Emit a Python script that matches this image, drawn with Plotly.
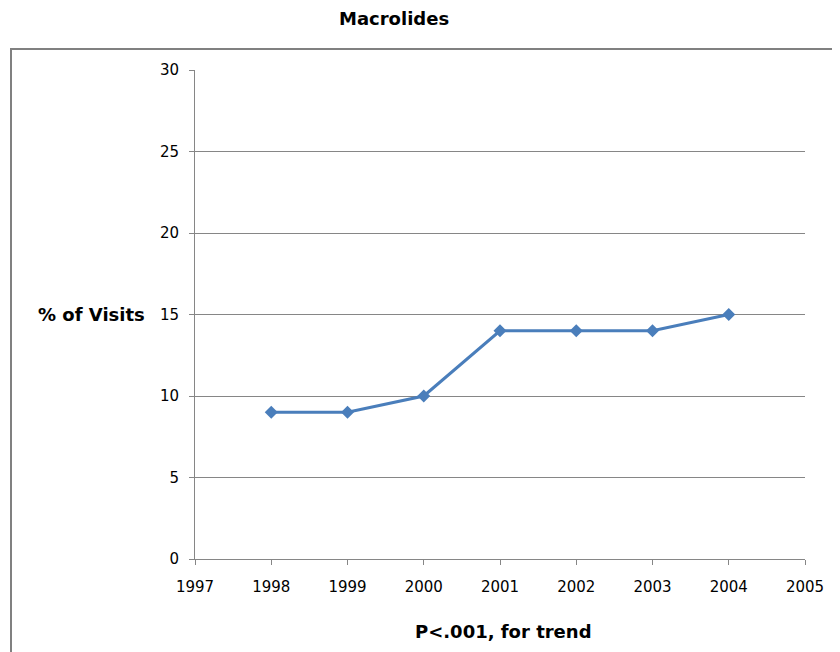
import plotly.graph_objects as go

years = [1998, 1999, 2000, 2001, 2002, 2003, 2004]
pct_visits = [9, 9, 10, 14, 14, 14, 15]
x_ticks = [1997, 1998, 1999, 2000, 2001, 2002, 2003, 2004, 2005]
y_ticks = [0, 5, 10, 15, 20, 25, 30]

OFF = 8  # page body margin
W, H = 840 - OFF, 652 - OFF
L, T = 195 - OFF, 70 - OFF
R = W - (805 - OFF)
B = H - (559 - OFF)
pw, ph = W - L - R, H - T - B

def px_x(px):
    return (px - OFF - L) / pw

def px_y(py):
    return (H - B - (py - OFF)) / ph

fig = go.Figure()
fig.add_trace(go.Scatter(
    x=years, y=pct_visits, mode="lines+markers",
    line=dict(color="#4A7EBB", width=3),
    marker=dict(symbol="diamond", size=10, color="#4A7EBB"),
    showlegend=False, cliponaxis=False,
))

font = "DejaVu Sans, sans-serif"
ann = dict(xref="paper", yref="paper", showarrow=False,
           xanchor="center", yanchor="middle")
fig.update_layout(
    width=W, height=H,
    margin=dict(l=L, r=R, t=T, b=B),
    paper_bgcolor="white", plot_bgcolor="white",
    font=dict(family=font, color="black"),
    xaxis=dict(range=[1997, 2005], tickvals=x_ticks, showgrid=False,
               showline=True, linecolor="#868686", linewidth=1,
               ticks="outside", ticklen=5, tickcolor="#868686",
               tickfont=dict(size=15), zeroline=False,
               ticklabelstandoff=9),
    yaxis=dict(range=[0, 30], tickvals=y_ticks, showgrid=True,
               gridcolor="#868686", gridwidth=1,
               showline=True, linecolor="#868686", linewidth=1,
               ticks="outside", ticklen=5, tickcolor="#868686",
               tickfont=dict(size=15), zeroline=False,
               ticklabelstandoff=7),
    shapes=[dict(type="rect", xref="paper", yref="paper",
                 x0=px_x(11), x1=px_x(860), y0=px_y(670), y1=px_y(49),
                 line=dict(color="#808080", width=2), layer="below")],
    annotations=[
        dict(text="<b>Macrolides</b>", x=px_x(394), y=px_y(19),
             font=dict(size=18, family=font), **ann),
        dict(text="<b>% of Visits</b>", x=px_x(91), y=px_y(314),
             font=dict(size=18, family=font), **ann),
        dict(text="<b>P<.001, for trend</b>", x=px_x(503), y=px_y(631),
             font=dict(size=18, family=font), **ann),
    ],
)

fig.write_html("out.html")
